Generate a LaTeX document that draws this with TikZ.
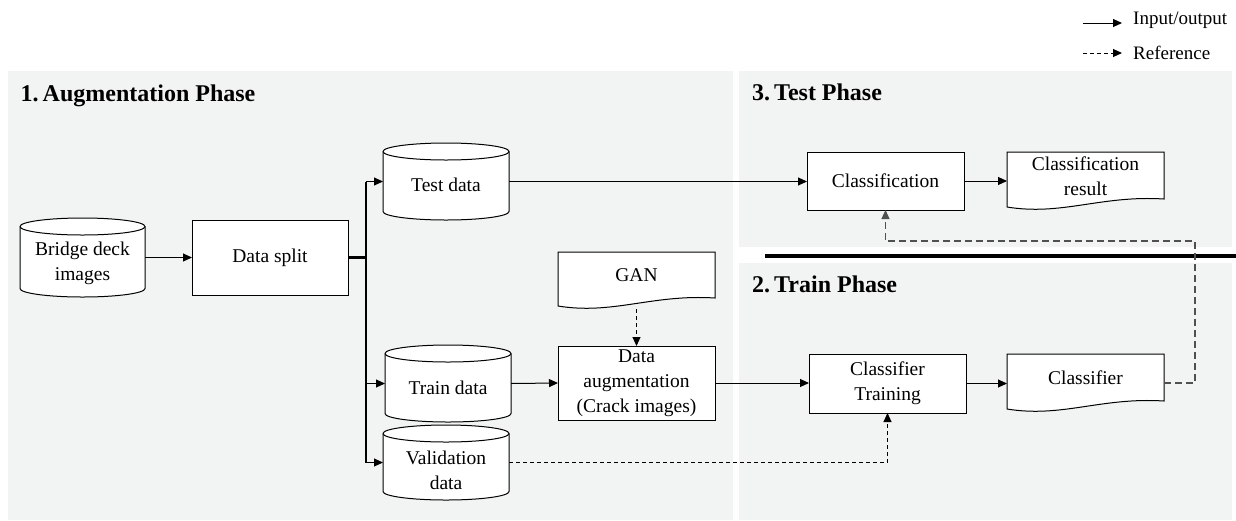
\documentclass[tikz,border=0pt]{standalone}
\usepackage{fontspec}
\setmainfont{Liberation Serif}
\usetikzlibrary{arrows.meta,calc}
\definecolor{panel}{RGB}{242,243,243}
\definecolor{fbgray}{RGB}{80,80,80}
\newcommand\cylshape[2]{%
  \draw[box] ($(#1.north west)+(0,8.5)$) -- ($(#1.south west)+(0,-8.5)$)
    arc[start angle=180,end angle=360,x radius=#2pt,y radius=8.5pt]
    -- ($(#1.north east)+(0,8.5)$)
    arc[start angle=0,end angle=180,x radius=#2pt,y radius=8.5pt] -- cycle;
  \draw[line width=1pt] ($(#1.north west)+(0,8.5)$)
    arc[start angle=180,end angle=360,x radius=#2pt,y radius=8.5pt];}
\newcommand\docshape[1]{%
  \draw[box] (#1.north west) -- (#1.north east) -- ($(#1.south east)+(0,-11)$)
    .. controls ($(#1.south east)+(-63,-15)$) and ($(#1.south west)+(55,6)$) ..
    ($(#1.south west)+(0,-3)$) -- cycle;}
\begin{document}
\begin{tikzpicture}[x=1pt,y=-1pt,
  font=\fontsize{19.5}{25}\selectfont,
  box/.style={draw=black, line width=1pt, fill=white},
  rectbox/.style={box, minimum width=157pt, minimum height=58pt, inner sep=0pt, outer sep=0pt, align=center},
  holder/.style={inner sep=0pt, outer sep=0pt},
  lbl/.style={align=center, inner sep=0pt},
  arr/.style={line width=1pt, -{Triangle[length=9pt,width=8pt]}},
  dsh/.style={arr, dash pattern=on 4pt off 3pt},
  head/.style={font=\fontsize{24}{28}\selectfont\bfseries, anchor=base west, inner sep=0pt},
  leg/.style={font=\fontsize{19}{22}\selectfont, anchor=base west, inner xsep=11pt, inner ysep=0pt}]
\useasboundingbox (0,0) rectangle (1236,520);
% panels
\fill[panel] (8,71) rectangle (733,520);
\fill[panel] (739,71) rectangle (1232,247);
\fill[panel] (739,263) rectangle (1232,520);
\draw[line width=3.5pt] (765,256) -- (1236,256);
% headings
\node[head] (h1) at (20.5,101.5) {1.\,Augmentation Phase};
\node[head] (h3) at (752,100.5) {3.\,Test Phase};
\node[head] (h2) at (752,292) {2.\,Train Phase};
% legend
\coordinate (la1) at (1083,23);
\node[leg] (leg1) at (1122,24.5) {Input/output};
\draw[arr] (la1) -- (la1 -| leg1.west);
\coordinate (la2) at (1083,53);
\node[leg] (leg2) at (1122,59) {Reference};
\draw[dsh] (la2) -- (la2 -| leg2.west);
% augmentation phase
\node[holder, minimum width=125pt, minimum height=79pt] (bridge) at (82.5,257.5) {};
\cylshape{bridge}{62.5}
\node[lbl] (bridge-t) at ($(bridge)+(0,6)$) {Bridge deck\\images};
\node[rectbox, minimum width=156pt, minimum height=75pt] (split) at (270,257.5) {Data split};
\node[holder, minimum width=126pt, minimum height=77pt] (tdata) at (446,181.5) {};
\cylshape{tdata}{63}
\node[lbl] (tdata-t) at ($(tdata)+(0,3.5)$) {Test data};
\node[holder, minimum width=126pt, minimum height=77pt] (train) at (448,383.5) {};
\cylshape{train}{63}
\node[lbl] (train-t) at ($(train)+(0,4.5)$) {Train data};
\node[holder, minimum width=126pt, minimum height=75pt] (val) at (446,462.5) {};
\cylshape{val}{63}
\node[lbl] (val-t) at ($(val)+(0,7.5)$) {Validation\\data};
\node[holder, minimum width=157pt, minimum height=57pt] (gan) at (636.5,280.5) {};
\docshape{gan}
\node[lbl] (gan-t) at ($(gan)+(0,-5.5)$) {GAN};
\node[rectbox, minimum height=74pt] (aug) at (636.5,383) {Data\\augmentation\\(Crack images)};
% test phase
\node[rectbox] (cls) at (885.5,181) {Classification};
\node[holder, minimum width=157pt, minimum height=58pt] (clsres) at (1085.5,181) {};
\docshape{clsres}
\node[lbl] (clsres-t) at ($(clsres)+(0,-5)$) {Classification\\result};
% train phase
\node[rectbox, minimum height=59pt] (ctrain) at (887.5,383.5) {Classifier\\Training};
\node[holder, minimum width=157pt, minimum height=58pt] (clsf) at (1085.5,383) {};
\docshape{clsf}
\node[lbl] (clsf-t) at ($(clsf)+(0,-5)$) {Classifier};
% connectors
\coordinate (bus) at (366,257.5);
\draw[line width=2.2pt] (split.east) -- (bus);
\draw[line width=1.6pt] (bus |- tdata.west) -- (bus |- val.west);
\draw[arr] (bridge.east) -- (split.west);
\draw[arr] (bus |- tdata.west) -- (tdata.west);
\draw[arr] (bus |- train.west) -- (train.west);
\draw[arr] (bus |- val.west) -- (val.west);
\draw[arr] (tdata.east) -- (tdata.east -| cls.west);
\draw[arr] (cls.east) -- (clsres.west);
\draw[arr] (train.east) -- (aug.west);
\draw[arr] (aug.east) -- (aug.east -| ctrain.west);
\draw[arr] (ctrain.east) -- (ctrain.east -| clsf.west);
\draw[dsh] (gan.south) -- (aug.north);
\draw[dsh] (val.east) -| (ctrain.south);
\coordinate (fb) at (1195,241);
\draw[arr, draw=fbgray, line width=1.2pt, dash pattern=on 7pt off 4pt] (clsf.east) -| (fb) -| (cls.south);
\end{tikzpicture}
\end{document}
